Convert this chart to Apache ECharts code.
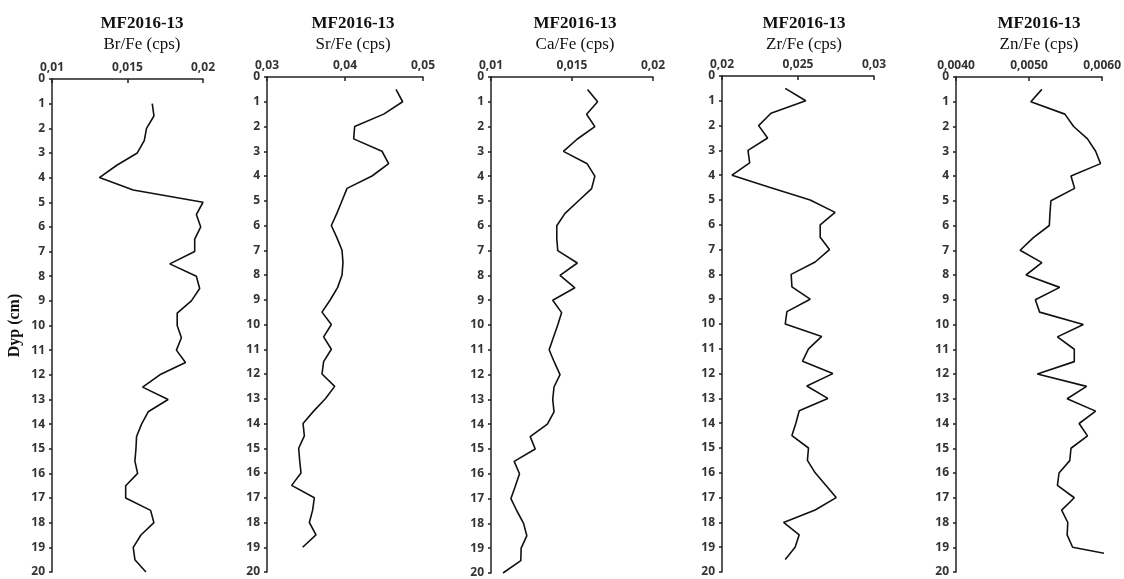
<!DOCTYPE html>
<html>
<head>
<meta charset="utf-8">
<script src="https://cdn.jsdelivr.net/npm/echarts@6/dist/echarts.min.js"></script>
<style>
html,body{margin:0;padding:0;background:#fff;}
#chart{width:1124px;height:579px;}
</style>
</head>
<body>
<div id="chart"></div>
<script>
// ---- data ----
var coreName = "MF2016-13";
var yAxisName = "Dyp (cm)";
var depthTicks = [0,1,2,3,4,5,6,7,8,9,10,11,12,13,14,15,16,17,18,19,20];

var panelTitles = ["Br/Fe (cps)", "Sr/Fe (cps)", "Ca/Fe (cps)", "Zr/Fe (cps)", "Zn/Fe (cps)"];

var brTicks = ["0,01", "0,015", "0,02"];
var srTicks = ["0,03", "0,04", "0,05"];
var caTicks = ["0,01", "0,015", "0,02"];
var zrTicks = ["0,02", "0,025", "0,03"];
var znTicks = ["0,0040", "0,0050", "0,0060"];

var brDepth = [1,1.5,2,2.5,3,3.5,4,4.5,5,5.5,6,6.5,7,7.5,8,8.5,9,9.5,10,10.5,11,11.5,12,12.5,13,13.5,14,14.5,15,15.5,16,16.5,17,17.5,18,18.5,19,19.5,20];
var brFe = [0.01664,0.01675,0.01626,0.01611,0.01565,0.01429,0.01314,0.01538,0.0200,0.01956,0.01985,0.01945,0.01945,0.01780,0.01956,0.01978,0.01923,0.01829,0.01829,0.01857,0.01824,0.01884,0.01714,0.01600,0.01769,0.01637,0.01593,0.01560,0.01556,0.01549,0.01567,0.01488,0.01488,0.01653,0.01675,0.01589,0.01538,0.01549,0.01622];

var srDepth = [0.5,1,1.5,2,2.5,3,3.5,4,4.5,5,5.5,6,6.5,7,7.5,8,8.5,9,9.5,10,10.5,11,11.5,12,12.5,13,13.5,14,14.5,15,15.5,16,16.5,17,17.5,18,18.5,19];
var srFe = [0.04654,0.04739,0.04496,0.04124,0.04111,0.04474,0.04560,0.04346,0.04026,0.03962,0.03897,0.03825,0.03897,0.03962,0.03974,0.03962,0.03906,0.03812,0.03705,0.03825,0.03726,0.03825,0.03726,0.03705,0.03868,0.03748,0.03598,0.03462,0.03479,0.03406,0.03419,0.03436,0.03316,0.03607,0.03585,0.03543,0.03628,0.03457];

var caDepth = [0.5,1,1.5,2,2.5,3,3.5,4,4.5,5,5.5,6,6.5,7,7.5,8,8.5,9,9.5,10,10.5,11,11.5,12,12.5,13,13.5,14,14.5,15,15.5,16,16.5,17,17.5,18,18.5,19,19.5,20];
var caFe = [0.01596,0.01658,0.01590,0.01641,0.01533,0.01447,0.01594,0.01641,0.01621,0.01539,0.01457,0.01406,0.01406,0.01412,0.01533,0.01426,0.01518,0.01381,0.01436,0.01412,0.01385,0.01359,0.01391,0.01426,0.01389,0.01381,0.01389,0.01348,0.01242,0.01273,0.01143,0.01176,0.01150,0.01123,0.01160,0.01201,0.01221,0.01186,0.01184,0.01074];

var zrDepth = [0.5,1,1.5,2,2.5,3,3.5,4,4.5,5,5.5,6,6.5,7,7.5,8,8.5,9,9.5,10,10.5,11,11.5,12,12.5,13,13.5,14,14.5,15,15.5,16,16.5,17,17.5,18,18.5,19,19.5];
var zrFe = [0.02416,0.02551,0.02322,0.02241,0.02300,0.02171,0.02182,0.02066,0.02317,0.02580,0.02744,0.02646,0.02646,0.02707,0.02613,0.02455,0.02460,0.02580,0.02427,0.02416,0.02656,0.02569,0.02530,0.02729,0.02558,0.02696,0.02508,0.02486,0.02460,0.02569,0.02562,0.02613,0.02683,0.02751,0.02613,0.02405,0.02508,0.02481,0.02416];

var znDepth = [0.5,1,1.5,2,2.5,3,3.5,4,4.5,5,5.5,6,6.5,7,7.5,8,8.5,9,9.5,10,10.5,11,11.5,12,12.5,13,13.5,14,14.5,15,15.5,16,16.5,17,17.5,18,18.5,19,19.5];
var znFe = [0.005175,0.005024,0.005490,0.005610,0.005800,0.005911,0.005978,0.005574,0.005623,0.005299,0.005286,0.005277,0.005055,0.004878,0.005175,0.004958,0.005419,0.005086,0.005144,0.005743,0.005388,0.005619,0.005619,0.005113,0.005787,0.005521,0.005911,0.005685,0.005800,0.005574,0.005557,0.005410,0.005388,0.005619,0.005446,0.005530,0.005521,0.005596,0.006490];

// ---- layout / build ----
var panels = [
  {depth: brDepth, vals: brFe, ticks: brTicks, min: 0.01, max: 0.02, interval: 0.005, left: 52, width: 151, top: 79, bottom: 7, titleX: 137},
  {depth: srDepth, vals: srFe, ticks: srTicks, min: 0.03, max: 0.05, interval: 0.01, left: 267, width: 156, top: 77, bottom: 7, titleX: 348},
  {depth: caDepth, vals: caFe, ticks: caTicks, min: 0.01, max: 0.02, interval: 0.005, left: 491, width: 162, top: 77, bottom: 6, titleX: 570},
  {depth: zrDepth, vals: zrFe, ticks: zrTicks, min: 0.02, max: 0.03, interval: 0.005, left: 722, width: 152, top: 76, bottom: 7, titleX: 799},
  {depth: znDepth, vals: znFe, ticks: znTicks, min: 0.004, max: 0.006, interval: 0.001, left: 956, width: 150, top: 77, bottom: 7, titleX: 1034}
];

var labelStyle = {fontFamily: "Open Sans", fontWeight: "bold", fontSize: 12, color: "#333"};
var axisLine = {lineStyle: {color: "#222", width: 1.5}};

var option = {
  animation: false,
  backgroundColor: "#fff",
  title: [], grid: [], xAxis: [], yAxis: [], series: []
};

panels.forEach(function (p, i) {
  option.title.push({
    text: coreName, subtext: panelTitles[i],
    left: p.titleX, top: 10, textAlign: "center", itemGap: 4,
    textStyle: {fontFamily: "Liberation Serif", fontWeight: "bold", fontSize: 17, color: "#111"},
    subtextStyle: {fontFamily: "Liberation Serif", fontSize: 17, color: "#111"}
  });
  option.grid.push({left: p.left, width: p.width, top: p.top, bottom: p.bottom, containLabel: false});
  (function (pp) {
    option.xAxis.push({
      type: "value", gridIndex: i, position: "top",
      min: pp.min, max: pp.max, interval: pp.interval,
      axisLine: axisLine,
      axisTick: {show: true, inside: true, length: 4, lineStyle: {color: "#222", width: 1.5}},
      splitLine: {show: false},
      axisLabel: Object.assign({margin: 5, formatter: function (v) {
        var k = Math.round((v - pp.min) / pp.interval);
        return pp.ticks[k] !== undefined ? pp.ticks[k] : "";
      }}, labelStyle)
    });
  })(p);
  option.yAxis.push({
    type: "value", gridIndex: i, inverse: true,
    min: depthTicks[0], max: depthTicks[depthTicks.length - 1], interval: 1,
    name: i === 0 ? yAxisName : "",
    nameLocation: "middle", nameGap: 29, nameRotate: 90,
    nameTextStyle: {fontFamily: "Liberation Serif", fontWeight: "bold", fontSize: 16, color: "#111"},
    axisLine: axisLine,
    axisTick: {show: true, inside: false, length: 3, lineStyle: {color: "#222", width: 1.5}},
    splitLine: {show: false},
    axisLabel: Object.assign({margin: 7}, labelStyle)
  });
  option.series.push({
    type: "line", xAxisIndex: i, yAxisIndex: i,
    data: p.depth.map(function (d, j) { return [p.vals[j], d]; }),
    showSymbol: false, symbol: "none", clip: true,
    lineStyle: {color: "#111", width: 1.6}
  });
});

var chart = echarts.init(document.getElementById("chart"), null, {renderer: "canvas"});
chart.setOption(option);
</script>
</body>
</html>
